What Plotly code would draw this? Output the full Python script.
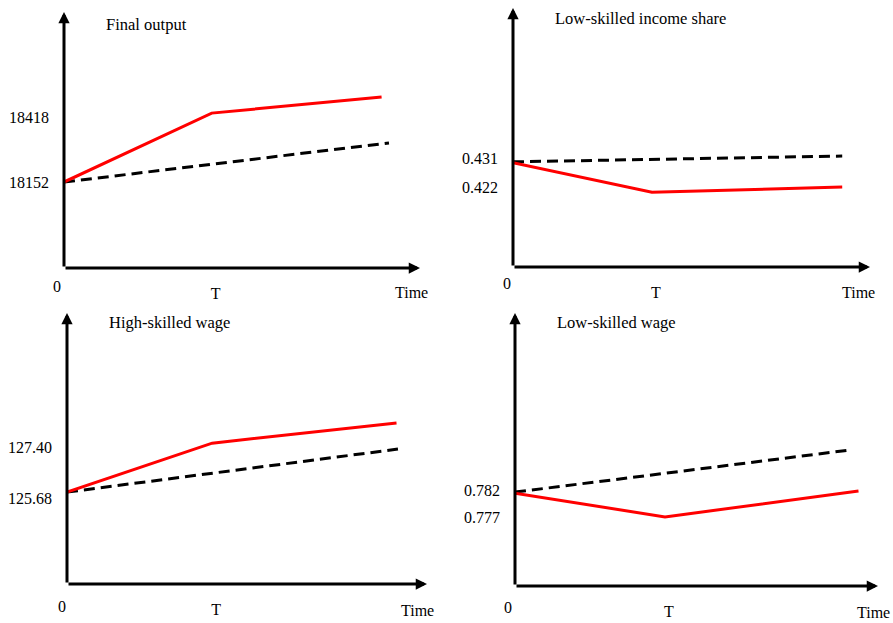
import plotly.graph_objects as go

# ---- data (schematic values) ----
titles = ["Final output", "Low-skilled income share", "High-skilled wage", "Low-skilled wage"]

# x in units of T (0 = start, 1 = T)
p1_red_x = [0, 1, 2.15]
p1_red_y = [18152, 18434, 18500]
p1_base_x = [0, 2.20]
p1_base_y = [18152, 18312]
p1_ticks = [18152, 18418]

p2_red_x = [0, 1, 2.37]
p2_red_y = [0.4295, 0.4204, 0.4220]
p2_base_x = [0, 2.37]
p2_base_y = [0.4298, 0.4316]
p2_ticks = [0.422, 0.431]

p3_red_x = [0, 1, 2.27]
p3_red_y = [125.88, 127.53, 128.21]
p3_base_x = [0, 2.28]
p3_base_y = [125.88, 127.33]
p3_ticks = [125.68, 127.40]
p3_ticktext = ["125.68", "127.40"]

p4_red_x = [0, 1, 2.29]
p4_red_y = [0.7814, 0.7770, 0.7818]
p4_base_x = [0, 2.23]
p4_base_y = [0.7816, 0.7894]
p4_ticks = [0.777, 0.782]

x_labels = ["0", "T", "Time"]

# ---- layout helpers ----
W, H = 893, 623
FONT = "Liberation Serif, Times New Roman, serif"

panels = [
    dict(red=(p1_red_x, p1_red_y), base=(p1_base_x, p1_base_y), ticks=p1_ticks,
         ticktext=[str(v) for v in p1_ticks],
         px=(64, 420), py=(12, 268), xmax=2.41, yr=(17800, 18848),
         title_xy=(104, 24), zero_xy=(57, 286), time_xy=(411, 292)),
    dict(red=(p2_red_x, p2_red_y), base=(p2_base_x, p2_base_y), ticks=p2_ticks,
         ticktext=[f"{v:.3f}" for v in p2_ticks],
         px=(513, 870), py=(8, 267), xmax=2.57, yr=(0.3972, 0.4775),
         title_xy=(553, 19), zero_xy=(507, 284), time_xy=(858, 293)),
    dict(red=(p3_red_x, p3_red_y), base=(p3_base_x, p3_base_y), ticks=p3_ticks,
         ticktext=p3_ticktext,
         px=(67, 427), py=(313, 584), xmax=2.48, yr=(122.78, 131.92),
         title_xy=(107, 322), zero_xy=(62, 606), time_xy=(417, 610)),
    dict(red=(p4_red_x, p4_red_y), base=(p4_base_x, p4_base_y), ticks=p4_ticks,
         ticktext=[f"{v:.3f}" for v in p4_ticks],
         px=(515, 878), py=(313, 586), xmax=2.42, yr=(0.7642, 0.8148),
         title_xy=(555, 322), zero_xy=(508, 607), time_xy=(873, 612)),
]

fig = go.Figure()
annotations = []

for i, p in enumerate(panels):
    n = "" if i == 0 else str(i + 1)
    xa, ya = "x" + n, "y" + n
    fig.add_trace(go.Scatter(x=p["base"][0], y=p["base"][1], mode="lines",
                             line=dict(color="black", width=3, dash="11px,6px"),
                             xaxis=xa, yaxis=ya, showlegend=False, hoverinfo="skip"))
    fig.add_trace(go.Scatter(x=p["red"][0], y=p["red"][1], mode="lines",
                             line=dict(color="#ff0000", width=3),
                             xaxis=xa, yaxis=ya, showlegend=False, hoverinfo="skip"))
    xdom = [p["px"][0] / W, p["px"][1] / W]
    ydom = [1 - p["py"][1] / H, 1 - p["py"][0] / H]
    fig.update_layout(**{
        "xaxis" + n: dict(domain=xdom, range=[0, p["xmax"]], showgrid=False, zeroline=False,
                          showline=False, ticks="", tickvals=[1], ticktext=[x_labels[1]],
                          ticklabelstandoff=14, ticklabelshift=4,
                          tickfont=dict(family=FONT, size=16, color="black"),
                          anchor=ya, fixedrange=True),
        "yaxis" + n: dict(domain=ydom, range=list(p["yr"]), showgrid=False, zeroline=False,
                          showline=False, ticks="", tickvals=p["ticks"], ticktext=p["ticktext"],
                          ticklabelstandoff=14,
                          tickfont=dict(family=FONT, size=16, color="black"),
                          anchor=xa, fixedrange=True),
    })
    y0 = p["yr"][0]
    # axes drawn as arrows
    annotations.append(dict(x=p["xmax"], y=y0, ax=0, ay=y0, xref=xa, yref=ya, axref=xa, ayref=ya,
                            text="", showarrow=True, arrowhead=2, arrowsize=0.75, arrowwidth=3,
                            arrowcolor="black"))
    annotations.append(dict(x=0, y=p["yr"][1], ax=0, ay=y0, xref=xa, yref=ya, axref=xa, ayref=ya,
                            text="", showarrow=True, arrowhead=2, arrowsize=0.75, arrowwidth=3,
                            arrowcolor="black"))
    # title
    annotations.append(dict(x=p["title_xy"][0] / W, y=1 - p["title_xy"][1] / H, xref="paper", yref="paper",
                            text=titles[i], showarrow=False, xanchor="left", yanchor="middle",
                            font=dict(family=FONT, size=16.5, color="black")))
    annotations.append(dict(x=p["zero_xy"][0] / W, y=1 - p["zero_xy"][1] / H, xref="paper", yref="paper",
                            text=x_labels[0], showarrow=False, xanchor="center", yanchor="middle",
                            font=dict(family=FONT, size=16, color="black")))
    annotations.append(dict(x=p["time_xy"][0] / W, y=1 - p["time_xy"][1] / H, xref="paper", yref="paper",
                            text=x_labels[2], showarrow=False, xanchor="center", yanchor="middle",
                            font=dict(family=FONT, size=16, color="black")))

fig.update_layout(width=W, height=H, margin=dict(l=0, r=0, t=0, b=0),
                  paper_bgcolor="white", plot_bgcolor="white",
                  annotations=annotations, showlegend=False)

fig.write_html("out.html", config={"displayModeBar": False, "staticPlot": True},
               post_script="document.body.style.margin='0px';")
